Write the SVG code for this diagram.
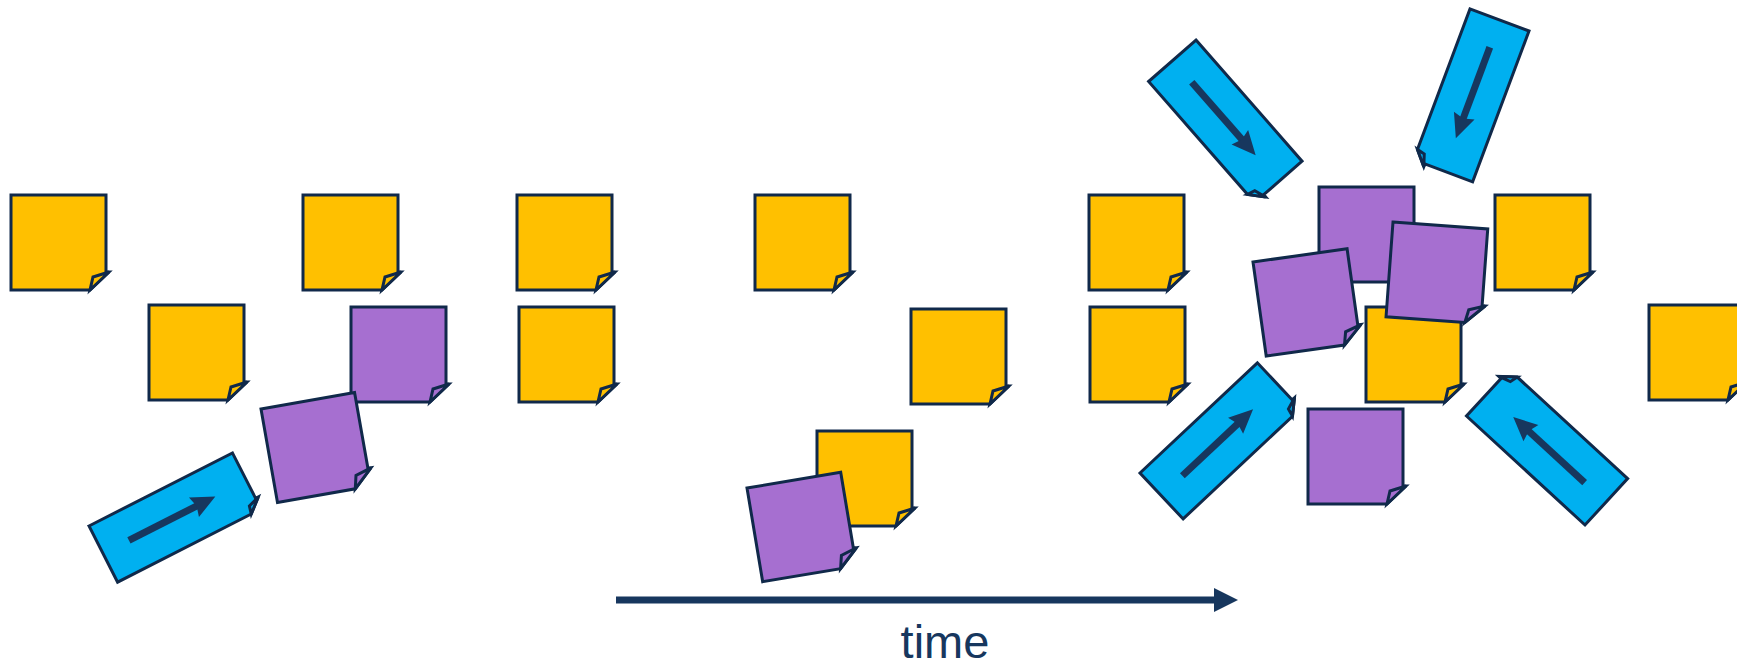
<svg xmlns="http://www.w3.org/2000/svg" xmlns:xlink="http://www.w3.org/1999/xlink" width="1737" height="666" viewBox="0 0 1737 666">
<style>
  .y{fill:#FFC000}
  .p{fill:#A66FD0}
  .b{fill:#00B0F0}
  .s{stroke:#10294A;stroke-width:3;stroke-linejoin:miter}
  .ar{fill:#17375E}
  .shaft{stroke:#17375E;stroke-width:7;fill:none}
  .lbl{font-family:"Liberation Sans",Arial,sans-serif;font-size:47px;fill:#17375E}
</style>
<defs>
  <path id="sq" d="M0,0 H95 V77 H98 L79,95 H0 Z"/>
  <path id="sqf" d="M98,77 L82,82 L79,95 Z"/>
  <path id="bl" d="M0,0 H161 V51 H164 L150,63 H0 Z"/>
  <path id="blf" d="M164,51 L152,55 L150,63 Z"/>
  <g id="barrow">
    <path class="shaft" d="M29,31 H107"/>
    <polygon class="ar" points="126,31 102,20 105,31 102,42"/>
  </g>
</defs>

<g id="y1" transform="translate(11,195)"><use xlink:href="#sq" class="y s"/><use xlink:href="#sqf" class="y s"/></g>
<g id="y2" transform="translate(149,305)"><use xlink:href="#sq" class="y s"/><use xlink:href="#sqf" class="y s"/></g>
<g id="y3" transform="translate(303,195)"><use xlink:href="#sq" class="y s"/><use xlink:href="#sqf" class="y s"/></g>
<g id="p1" transform="translate(351,307)"><use xlink:href="#sq" class="p s"/><use xlink:href="#sqf" class="p s"/></g>
<g id="p2" transform="translate(261,409) rotate(-10)"><use xlink:href="#sq" class="p s"/><use xlink:href="#sqf" class="p s"/></g>
<g id="b1" transform="translate(89,526) rotate(-27)"><use xlink:href="#bl" class="b s"/><use xlink:href="#blf" class="b s"/><use xlink:href="#barrow"/></g>

<g id="y4" transform="translate(517,195)"><use xlink:href="#sq" class="y s"/><use xlink:href="#sqf" class="y s"/></g>
<g id="y5" transform="translate(519,307)"><use xlink:href="#sq" class="y s"/><use xlink:href="#sqf" class="y s"/></g>
<g id="y6" transform="translate(755,195)"><use xlink:href="#sq" class="y s"/><use xlink:href="#sqf" class="y s"/></g>
<g id="y7" transform="translate(911,309)"><use xlink:href="#sq" class="y s"/><use xlink:href="#sqf" class="y s"/></g>
<g id="y8" transform="translate(817,431)"><use xlink:href="#sq" class="y s"/><use xlink:href="#sqf" class="y s"/></g>
<g id="p3" transform="translate(747,488) rotate(-9.5)"><use xlink:href="#sq" class="p s"/><use xlink:href="#sqf" class="p s"/></g>

<g id="y9" transform="translate(1089,195)"><use xlink:href="#sq" class="y s"/><use xlink:href="#sqf" class="y s"/></g>
<g id="y10" transform="translate(1090,307)"><use xlink:href="#sq" class="y s"/><use xlink:href="#sqf" class="y s"/></g>
<g id="b2" transform="translate(1196,40) rotate(48.8)"><use xlink:href="#bl" class="b s"/><use xlink:href="#blf" class="b s"/><use xlink:href="#barrow"/></g>
<g id="b3" transform="translate(1529,31) rotate(110.5)"><use xlink:href="#bl" class="b s"/><use xlink:href="#blf" class="b s"/><use xlink:href="#barrow"/></g>
<g id="p4" transform="translate(1319,187)"><use xlink:href="#sq" class="p s"/><use xlink:href="#sqf" class="p s"/></g>
<g id="y11" transform="translate(1366,307)"><use xlink:href="#sq" class="y s"/><use xlink:href="#sqf" class="y s"/></g>
<g id="p5" transform="translate(1253,262) rotate(-8)"><use xlink:href="#sq" class="p s"/><use xlink:href="#sqf" class="p s"/></g>
<g id="p6" transform="translate(1393,222) rotate(4.2)"><use xlink:href="#sq" class="p s"/><use xlink:href="#sqf" class="p s"/></g>
<g id="p7" transform="translate(1308,409)"><use xlink:href="#sq" class="p s"/><use xlink:href="#sqf" class="p s"/></g>
<g id="b4" transform="translate(1140,473) rotate(-43.2)"><use xlink:href="#bl" class="b s"/><use xlink:href="#blf" class="b s"/><use xlink:href="#barrow"/></g>
<g id="b5" transform="translate(1585,525) rotate(-137.4)"><use xlink:href="#bl" class="b s"/><use xlink:href="#blf" class="b s"/><use xlink:href="#barrow"/></g>
<g id="y12" transform="translate(1495,195)"><use xlink:href="#sq" class="y s"/><use xlink:href="#sqf" class="y s"/></g>
<g id="y13" transform="translate(1649,305)"><use xlink:href="#sq" class="y s"/><use xlink:href="#sqf" class="y s"/></g>

<g id="connectors">
  <path class="shaft" d="M616,600 H1218"/>
  <polygon class="ar" points="1238,600 1214,588 1214,612"/>
</g>
<text class="lbl" x="945" y="658" text-anchor="middle">time</text>
</svg>
